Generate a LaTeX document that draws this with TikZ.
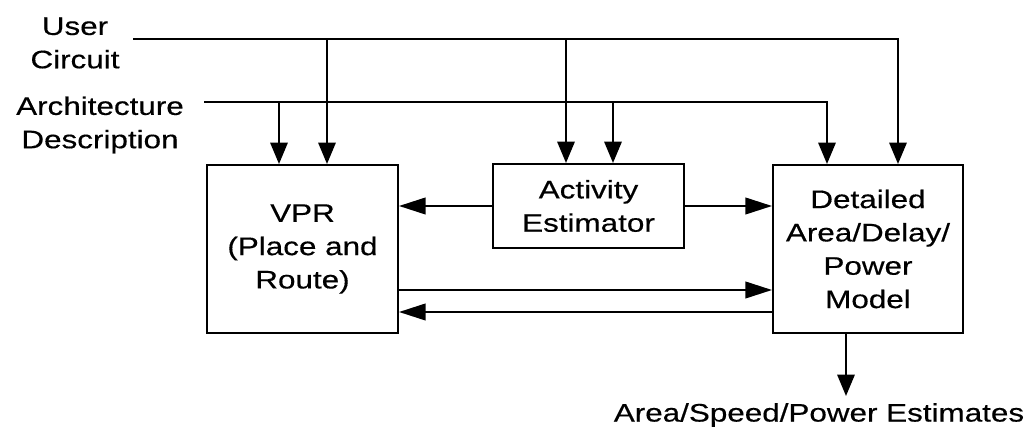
\documentclass[tikz,border=0pt]{standalone}
\usepackage{fontspec}
\setmainfont{Liberation Sans}[FakeStretch=1.24,FakeBold=0.4]
\usetikzlibrary{arrows.meta}
\begin{document}
\begin{tikzpicture}[x=0.75pt,y=-0.75pt,
  every node/.style={font=\fontsize{19pt}{25pt}\selectfont},
  block/.style={draw, line width=1.5pt, align=center, inner sep=0pt},
  lbl/.style={align=center, inner sep=0pt},
  wire/.style={line width=1.5pt},
  varr/.style={wire, -{Triangle[length=16pt,width=13pt]}},
  harr/.style={wire, -{Triangle[length=20pt,width=12.5pt]}}]
\useasboundingbox (0,0) rectangle (1033,427);

% blocks
\node[block, minimum width=143.25pt, minimum height=126pt] (vpr) at (302.5,249) {VPR\\(Place and\\Route)};
\node[block, minimum width=143.25pt, minimum height=63pt] (act) at (588.5,206) {Activity\\Estimator};
\node[block, minimum width=142.5pt, minimum height=126pt] (det) at (868,249) {Detailed\\Area/Delay/\\Power\\Model};

% inputs and output labels
\node[lbl] (user) at (75,43) {User\\Circuit};
\node[lbl] (arch) at (100,125) {Architecture\\Description};
\node[lbl] (est) at (819,415) {Area/Speed/Power Estimates};

% bus taps
\coordinate (u0) at (133,39);
\coordinate (u1) at (327,39);
\coordinate (u2) at (566,39);
\coordinate (u3) at (898,39);
\coordinate (a0) at (204,102);
\coordinate (a1) at (279,102);
\coordinate (a2) at (613,102);
\coordinate (a3) at (827,102);
\coordinate (r1) at (0,290);
\coordinate (r2) at (0,312);
\coordinate (o1) at (846,396);

% user circuit bus
\draw[varr] (u0) -| (det.north -| u3);
\draw[varr] (u1) -- (vpr.north -| u1);
\draw[varr] (u2) -- (act.north -| u2);

% architecture bus
\draw[varr] (a0) -| (det.north -| a3);
\draw[varr] (a1) -- (vpr.north -| a1);
\draw[varr] (a2) -- (act.north -| a2);

% block-to-block flows
\draw[harr] (act.west) -- (vpr.east |- act.west);
\draw[harr] (act.east) -- (det.west |- act.east);
\draw[harr] (vpr.east |- r1) -- (det.west |- r1);
\draw[harr] (det.west |- r2) -- (vpr.east |- r2);

% result
\draw[varr] (det.south -| o1) -- (o1);
\end{tikzpicture}
\end{document}
